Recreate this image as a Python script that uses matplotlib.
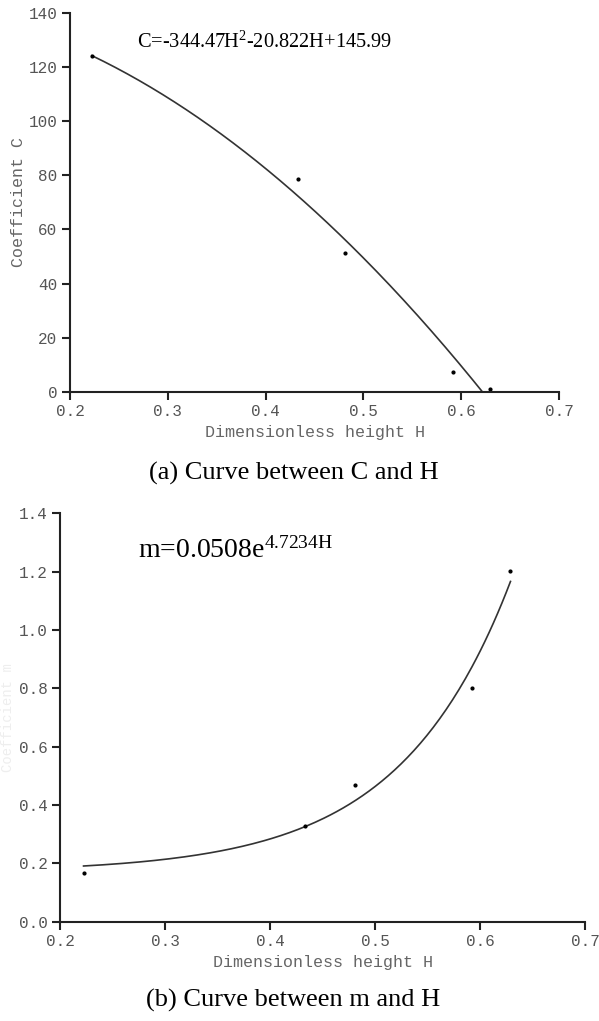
import numpy as np
import matplotlib
matplotlib.use("Agg")
import matplotlib.pyplot as plt

plt.rcParams['mathtext.fontset'] = 'custom'
plt.rcParams['mathtext.rm'] = 'Liberation Serif'
plt.rcParams['mathtext.it'] = 'Liberation Serif'

# data
H = [0.2224, 0.433, 0.481, 0.592, 0.629]
C = [124.2, 78.6, 51.3, 7.4, 1.0]
m = [0.168, 0.328, 0.469, 0.800, 1.204]

c_coef = [-344.47, -20.822, 145.99]   # printed trend equation
x_ticks = [0.2, 0.3, 0.4, 0.5, 0.6, 0.7]
c_ticks = [0, 20, 40, 60, 80, 100, 120, 140]
m_ticks = [0.0, 0.2, 0.4, 0.6, 0.8, 1.0, 1.2, 1.4]

tick_font = dict(family='Liberation Mono', size=11.5, color='#555555')
lab_font = dict(family='Liberation Mono', size=12, color='#666666')
cap_font = dict(family='Liberation Serif', size=19, color='black')

fig = plt.figure(figsize=(5.99, 10.21), dpi=100)
ax1 = fig.add_axes([0.1169, 0.6164, 0.8164, 0.3706])
ax2 = fig.add_axes([0.1002, 0.0974, 0.8765, 0.3997])


def style(ax):
    for s in ['top', 'right']:
        ax.spines[s].set_visible(False)
    for s in ['left', 'bottom']:
        ax.spines[s].set_linewidth(1.5)
        ax.spines[s].set_color('#222222')
    ax.tick_params(direction='out', length=6, width=1.5, color='#222222', pad=3)
    ax.set_xticks(x_ticks)
    ax.set_xticklabels([f'{v:.1f}' for v in x_ticks], fontdict=tick_font)
    ax.set_xlim(0.2, 0.7)


# (a) C vs H
style(ax1)
ax1.set_ylim(0, 140)
ax1.set_yticks(c_ticks)
ax1.set_yticklabels([str(v) for v in c_ticks], fontdict=tick_font)
root = max(np.roots(c_coef))
hh = np.linspace(H[0], root, 200)
ax1.plot(hh, np.polyval(c_coef, hh), color='#333333', lw=1.2)
ax1.plot(H, C, 'o', color='black', ms=2)
ax1.text(0.2685, 127.2, 'C=-344.47H$^{2}$-20.822H+145.99', fontsize=14.7,
         family='Liberation Serif', va='baseline')
ax1.set_xlabel('Dimensionless height H', fontdict=lab_font, labelpad=4)
ax1.set_ylabel('Coefficient C', fontdict=lab_font, labelpad=2)

# (b) m vs H
style(ax2)
ax2.set_ylim(0, 1.4)
ax2.set_yticks(m_ticks)
ax2.set_yticklabels([f'{v:.1f}' for v in m_ticks], fontdict=tick_font)
# offset exponential trend fitted to the points
Ha = np.array(H)
ma = np.array(m)
best = None
for b in np.linspace(1, 20, 400):
    A = np.column_stack([np.ones_like(Ha), np.exp(b * Ha)])
    coef, res, _, _ = np.linalg.lstsq(A, ma, rcond=None)
    r = np.sum((A @ coef - ma) ** 2)
    if best is None or r < best[0]:
        best = (r, b, coef)
_, b, coef = best
hh = np.linspace(H[0], H[-1], 200)
ax2.plot(hh, coef[0] + coef[1] * np.exp(b * hh), color='#333333', lw=1.2)
ax2.plot(H, m, 'o', color='black', ms=2)
ax2.text(0.274, 1.25, 'm=0.0508e$^{4.7234H}$', fontsize=20,
         family='Liberation Serif', va='baseline')
ax2.set_xlabel('Dimensionless height H', fontdict=lab_font, labelpad=4)
fig.text(0.014, 0.297, 'Coefficient m', rotation=90, ha='center', va='center',
         family='Liberation Mono', size=10, color='#eeeeee')

fig.text(0.49, 1 - 473 / 1021, '(a) Curve between C and H', ha='center',
         va='center', **cap_font)
fig.text(0.49, 1 - 1000 / 1021, '(b) Curve between m and H', ha='center',
         va='center', **cap_font)

fig.savefig('out.png', dpi=100)
